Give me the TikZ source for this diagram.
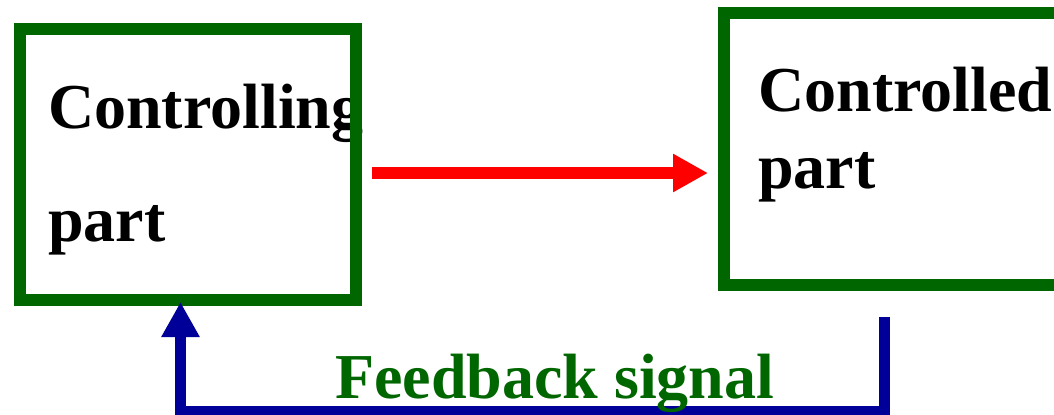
\documentclass[tikz,border=0pt]{standalone}
\usepackage{fontspec}
\setmainfont{Liberation Serif}
\usetikzlibrary{arrows.meta}
\definecolor{boxgreen}{RGB}{0,102,0}
\definecolor{sigred}{RGB}{255,0,0}
\definecolor{fbblue}{RGB}{0,0,153}
\begin{document}
\begin{tikzpicture}[x=1bp,y=-1bp,
  labeltext/.style={anchor=base west, inner sep=0pt,
    font=\fontsize{64bp}{76bp}\selectfont\bfseries},
  block/.style={draw=boxgreen, line width=12bp, rectangle, inner sep=0pt},
  forward/.style={draw=sigred, line width=12bp,
    -{Triangle[length=35bp,width=36bp]}},
  feedback/.style={draw=fbblue, line width=11bp, line join=miter,
    -{Triangle[length=35bp,width=36bp]}}]
\useasboundingbox (0,0) rectangle (1054,414);
\clip (0,0) rectangle (1054,414);

% block captions (the long word is cut off at the block's edge)
\begin{scope}
  \clip (0,0) rectangle (362,414);
  \node[labeltext] (t1) at (48,128) {Controlling};
\end{scope}
\node[labeltext] (t2) at (48,241.7) {part};
\node[labeltext] (t3) at (758,111.7) {Controlled};
\node[labeltext] (t4) at (758,188) {part};

% the two blocks
\node[block, minimum width=336bp, minimum height=271bp] (ctrl) at (188,164.5) {};
\node[block, minimum width=356bp, minimum height=272bp] (plant) at (902,149) {};

% forward signal
\coordinate (fwdA) at ([xshift=10bp,yshift=-8.5bp]ctrl.east);
\draw[forward, shorten >=10bp] (fwdA) -- (fwdA -| plant.west);

% feedback loop
\coordinate (fbA) at ([xshift=-18bp,yshift=-26bp]plant.south);
\coordinate (fbLow) at (0,411.5);
\coordinate (fbEnd) at ([xshift=-7.5bp]ctrl.south);
\draw[feedback, shorten >=-4bp] (fbA) -- (fbA |- fbLow) -| (fbEnd);

\node[labeltext, text=boxgreen] (fbtext) at (335,398) {Feedback signal};
\end{tikzpicture}
\end{document}
